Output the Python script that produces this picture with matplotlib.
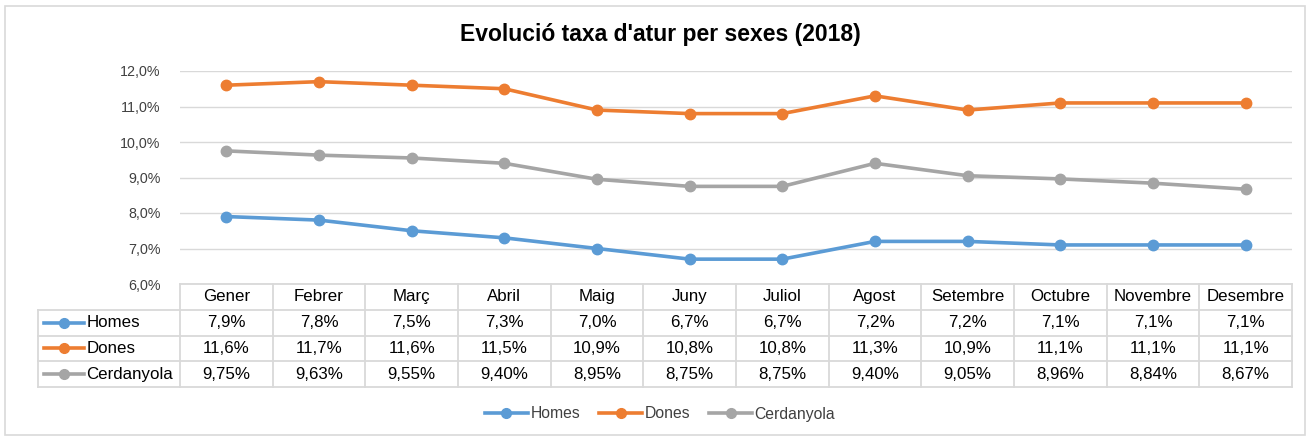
import matplotlib
matplotlib.use("Agg")
import matplotlib.pyplot as plt
from matplotlib.patches import Rectangle
from matplotlib.lines import Line2D

plt.rcParams['font.family'] = ['Liberation Sans', 'DejaVu Sans']

months = ["Gener", "Febrer", "Març", "Abril", "Maig", "Juny", "Juliol",
          "Agost", "Setembre", "Octubre", "Novembre", "Desembre"]
homes = [7.9, 7.8, 7.5, 7.3, 7.0, 6.7, 6.7, 7.2, 7.2, 7.1, 7.1, 7.1]
dones = [11.6, 11.7, 11.6, 11.5, 10.9, 10.8, 10.8, 11.3, 10.9, 11.1, 11.1, 11.1]
cerdanyola = [9.75, 9.63, 9.55, 9.40, 8.95, 8.75, 8.75, 9.40, 9.05, 8.96, 8.84, 8.67]
series_names = ["Homes", "Dones", "Cerdanyola"]
series_vals = [homes, dones, cerdanyola]
series_dec = [1, 1, 2]
colors = ["#5B9BD5", "#ED7D31", "#A5A5A5"]
yticks = [6, 7, 8, 9, 10, 11, 12]
title = "Evolució taxa d'atur per sexes (2018)"

W, H = 1311, 438
fig = plt.figure(figsize=(W / 100, H / 100), dpi=100)

def px_rect(x0, y0, x1, y1):
    return [x0 / W, (H - y1) / H, (x1 - x0) / W, (y1 - y0) / H]

# outer border
fig.patches.append(Rectangle((5 / W, 3 / H), (W - 11) / W, (H - 9) / H,
                             transform=fig.transFigure, fill=False,
                             edgecolor="#D9D9D9", linewidth=1.2))

grid_c = "#D9D9D9"
ax = fig.add_axes(px_rect(180, 71, 1292, 284))
x = list(range(len(months)))
for vals, c in zip(series_vals, colors):
    ax.plot(x, vals, color=c, linewidth=2.6, marker="o", markersize=7.5, zorder=3)
ax.set_xlim(-0.5, len(months) - 0.5)
ax.set_ylim(6, 12)
ax.set_yticks(yticks)
ax.set_yticklabels([f"{v:.1f}".replace(".", ",") + "%" for v in yticks],
                   fontsize=10.3, color="#404040")
ax.set_xticks([])
ax.tick_params(axis="y", length=0, pad=14)
ax.grid(axis="y", color=grid_c, linewidth=1)
for s in ax.spines.values():
    s.set_visible(False)
ax.set_axisbelow(True)

# table axes
unit = 1112 / 12.0
left_units = (180 - 38) / unit
tax = fig.add_axes(px_rect(38, 284, 1292, 387))
tax.set_xlim(-0.5 - left_units, len(months) - 0.5)
tax.set_ylim(4, 0)
tax.axis("off")
lc = "#D9D9D9"
lw = 1.3
tax.plot([-0.5, 11.5], [0, 0], color=lc, lw=lw, clip_on=False)
for i in range(13):
    tax.plot([i - 0.5, i - 0.5], [0, 4], color=lc, lw=lw, clip_on=False)
for r in range(1, 5):
    tax.plot([-0.5 - left_units, 11.5], [r, r], color=lc, lw=lw, clip_on=False)
tax.plot([-0.5 - left_units] * 2, [1, 4], color=lc, lw=lw, clip_on=False)

fs = 12.2
for i, m in enumerate(months):
    tax.text(i, 0.5, m, ha="center", va="center", fontsize=fs, color="#000000")
for r, (name, vals, d, c) in enumerate(zip(series_names, series_vals, series_dec, colors)):
    yy = r + 1.5
    x0 = -0.5 - left_units + 0.06
    tax.plot([x0, x0 + 0.44], [yy, yy], color=c, lw=2.6, clip_on=False)
    tax.plot([x0 + 0.22], [yy], marker="o", color=c, markersize=7, clip_on=False)
    tax.text(x0 + 0.46, yy, name, ha="left", va="center", fontsize=fs)
    for i, v in enumerate(vals):
        tax.text(i, yy, f"{v:.{d}f}".replace(".", ",") + "%", ha="center",
                 va="center", fontsize=fs)

fig.text(660 / W, 1 - 34 / H, title, ha="center", va="center",
         fontsize=16.5, fontweight="bold")

handles = [Line2D([], [], color=c, lw=2.6, marker="o", markersize=7) for c in colors]
fig.legend(handles, series_names, loc="center", bbox_to_anchor=(660 / W, 1 - 414 / H),
           ncol=3, frameon=False, fontsize=11.3, handlelength=2.75, columnspacing=1.2,
           handletextpad=0.15, labelcolor="#404040")

fig.savefig("out.png", dpi=100)
